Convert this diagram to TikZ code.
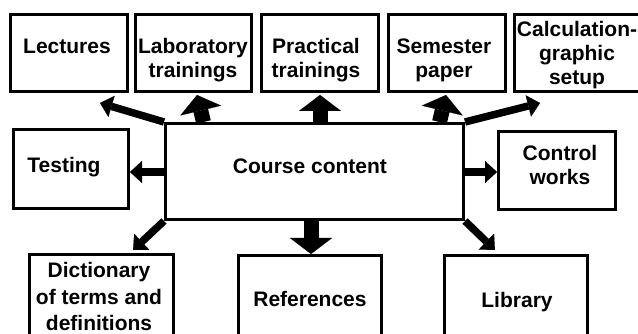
\documentclass[tikz,border=0pt]{standalone}
\usepackage{fontspec}
\setmainfont{Liberation Sans}
\usetikzlibrary{arrows.meta,backgrounds}
\newcommand\mlines[1]{\begin{tabular}[t]{@{}c@{}}#1\end{tabular}}
\begin{document}
\begin{tikzpicture}[x=1pt,y=-1pt,
  box/.style={draw,line width=3pt,fill=white,inner sep=0pt},
  txt/.style={anchor=base,inner sep=0pt,font=\bfseries\fontsize{21}{24}\selectfont},
  widetxt/.style={font=\bfseries\fontsize{21}{27}\selectfont},
  thinarr/.style={line width=7.5pt,-{Triangle[width=22pt,length=12pt,line width=0.1pt]}},
  thickarr/.style={line width=15pt,-{Triangle[width=42pt,length=16pt,line width=0.1pt]}}]
\useasboundingbox (0,0) rectangle (638,334);
% boxes
\node[box,minimum width=117pt,minimum height=77pt] (lect) at (69,53) {};
\node[box,minimum width=116pt,minimum height=77pt] (lab) at (193.5,53) {};
\node[box,minimum width=117pt,minimum height=77pt] (prac) at (320,53) {};
\node[box,minimum width=117pt,minimum height=77pt] (sem) at (447,53) {};
\node[box,minimum width=126pt,minimum height=77pt] (calc) at (577.5,53) {};
\node[box,minimum width=115pt,minimum height=79pt] (test) at (71,169) {};
\node[box,minimum width=298pt,minimum height=96pt] (cc) at (314.5,171.5) {};
\node[box,minimum width=117pt,minimum height=78pt] (ctrl) at (557,170.5) {};
\node[box,minimum width=144pt,minimum height=90pt] (dict) at (101.5,299.5) {};
\node[box,minimum width=143pt,minimum height=89pt] (refs) at (310,300) {};
\node[box,minimum width=143pt,minimum height=89pt] (lib) at (516,300) {};
% texts
\node[txt] (lect-t) at (67,54) {Lectures};
\node[txt] (lab-t) at (193,54) {\mlines{Laboratory\\trainings}};
\node[txt] (prac-t) at (316,54) {\mlines{Practical\\trainings}};
\node[txt] (sem-t) at (444,53.5) {\mlines{Semester\\paper}};
\node[txt] (calc-t) at (577,37) {\mlines{Calculation-\\graphic\\setup}};
\node[txt] (test-t) at (64,173) {Testing};
\node[txt] (cc-t) at (310,174) {Course content};
\node[txt] (ctrl-t) at (560,161) {\mlines{Control\\works}};
\node[txt,widetxt] (dict-t) at (99,277) {\mlines{Dictionary\\of terms and\\definitions}};
\node[txt] (refs-t) at (310,306) {References};
\node[txt] (lib-t) at (517,307) {Library};
% arrow targets
\coordinate (lect-in) at (100,103);
\coordinate (lab-in) at (197,95);
\coordinate (prac-in) at (320,95);
\coordinate (sem-in) at (446,95);
\coordinate (calc-in) at (540,103);
\coordinate (test-in) at (130,172);
\coordinate (ctrl-in) at (497,172);
\coordinate (dict-in) at (133,250);
\coordinate (refs-in) at (311,254);
\coordinate (lib-in) at (495,250);
\begin{scope}[on background layer]
\draw[thinarr] (cc.north west) -- (lect-in);
\draw[thickarr] ([xshift=39.5pt]cc.north west) -- (lab-in);
\draw[thickarr] (cc.north -| prac-in) -- (prac-in);
\draw[thickarr] ([xshift=-25.5pt]cc.north east) -- (sem-in);
\draw[thinarr] (cc.north east) -- (calc-in);
\draw[thinarr] (cc.west |- test-in) -- (test-in);
\draw[thinarr] (cc.east |- ctrl-in) -- (ctrl-in);
\draw[thinarr] (cc.south west) -- (dict-in);
\draw[thickarr] (cc.south -| refs-in) -- (refs-in);
\draw[thinarr] (cc.south east) -- (lib-in);
\end{scope}
\end{tikzpicture}
\end{document}
